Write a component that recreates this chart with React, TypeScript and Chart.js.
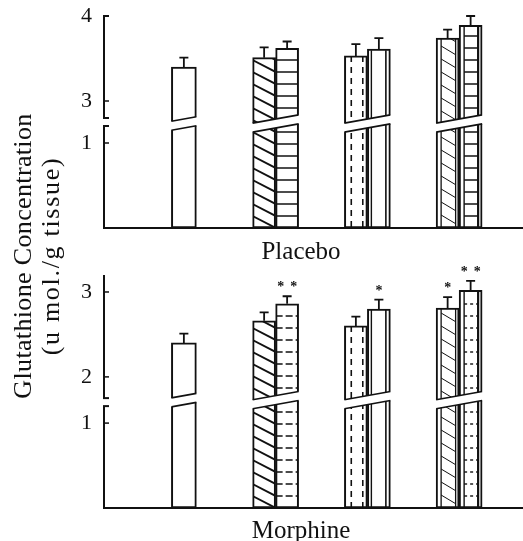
import React, { useEffect, useRef } from "react";
import { Chart, registerables, LinearScale } from "chart.js";

// ---------------- data ----------------
const categories = ["Control", "Group 1", "Group 2", "Group 3"];

const placeboControl = [3.4, null, null, null];
const placeboControlErr = [0.11, 0, 0, 0];
const placeboLeft = [null, 3.51, 3.53, 3.74];
const placeboLeftErr = [0, 0.12, 0.14, 0.1];
const placeboRight = [null, 3.62, 3.61, 3.89];
const placeboRightErr = [0, 0.08, 0.13, 0.11];
const placeboTicks = [1, 3, 4];

const morphineControl = [2.4, null, null, null];
const morphineControlErr = [0.11, 0, 0, 0];
const morphineLeft = [null, 2.66, 2.6, 2.81];
const morphineLeftErr = [0, 0.1, 0.11, 0.13];
const morphineRight = [null, 2.86, 2.8, 3.02];
const morphineRightErr = [0, 0.09, 0.11, 0.11];
const morphineLeftSig = ["", "", "", "*"];
const morphineRightSig = ["", "**", "*", "**"];
const morphineTicks = [1, 2, 3];

// ---------------- styles ----------------
const INK = "#111";
const FONT = '"Liberation Serif", "Times New Roman", serif';
const controlStyles = ["plain", null, null, null];
const leftStylesTop = [null, "diag", "dashedV", "diagDouble"];
const rightStylesTop = [null, "horiz", "doubleV", "horizDouble"];
const leftStylesBottom = [null, "diag", "dashedV", "diagDouble"];
const rightStylesBottom = [null, "horizDashed", "doubleV", "horizDoubleDotted"];

// ---------------- broken linear scale ----------------
class BrokenLinearScale extends (LinearScale as any) {
  static id = "brokenLinear";
  static defaults = {};
  _brkDecimal(value: number) {
    const o = (this as any).options.brk;
    const total = Math.abs((this as any).bottom - (this as any).top);
    const min = (this as any).min;
    const max = (this as any).max;
    const lowRange = o.low - min;
    const highRange = max - o.high;
    const ppu = (total - o.gap) / (lowRange + highRange);
    let px: number;
    if (value <= o.low) px = (value - min) * ppu;
    else if (value >= o.high) px = lowRange * ppu + o.gap + (value - o.high) * ppu;
    else px = lowRange * ppu + ((value - o.low) / (o.high - o.low)) * o.gap;
    return px / total;
  }
  getPixelForValue(value: any) {
    if (value === null || value === undefined || isNaN(value)) return NaN;
    return (this as any).getPixelForDecimal(this._brkDecimal(+value));
  }
  getValueForPixel(pixel: number) {
    const o = (this as any).options.brk;
    const total = Math.abs((this as any).bottom - (this as any).top);
    const min = (this as any).min;
    const max = (this as any).max;
    const d = (this as any).getDecimalForPixel(pixel) * total;
    const lowRange = o.low - min;
    const highRange = max - o.high;
    const ppu = (total - o.gap) / (lowRange + highRange);
    const lowPx = lowRange * ppu;
    if (d <= lowPx) return min + d / ppu;
    if (d >= lowPx + o.gap) return o.high + (d - lowPx - o.gap) / ppu;
    return o.low + ((d - lowPx) / o.gap) * (o.high - o.low);
  }
}

Chart.register(...registerables, BrokenLinearScale as any);

// ---------------- hatch drawing ----------------
function drawHatch(ctx: CanvasRenderingContext2D, style: string | null, l: number, t: number, r: number, b: number) {
  if (!style || style === "plain") return;
  const w = r - l;
  ctx.save();
  ctx.beginPath();
  ctx.rect(l + 1, t + 1, w - 2, b - t - 1);
  ctx.clip();
  ctx.strokeStyle = INK;
  ctx.lineCap = "butt";
  const vline = (x: number, lw: number, dash: number[] = []) => {
    ctx.lineWidth = lw;
    ctx.setLineDash(dash);
    ctx.beginPath();
    ctx.moveTo(x, t);
    ctx.lineTo(x, b);
    ctx.stroke();
  };
  const hlines = (x0: number, x1: number, lw: number, dash: number[], step: number) => {
    ctx.lineWidth = lw;
    ctx.setLineDash(dash);
    for (let yy = b - step; yy > t + 3; yy -= step) {
      ctx.beginPath();
      ctx.moveTo(x0, yy);
      ctx.lineTo(x1, yy);
      ctx.stroke();
    }
  };
  const diag = (x0: number, x1: number, lw: number, step: number, slope: number) => {
    ctx.lineWidth = lw;
    ctx.setLineDash([]);
    const span = (x1 - x0) * slope;
    for (let y0 = b; y0 > t - span - step; y0 -= step) {
      ctx.beginPath();
      ctx.moveTo(x0, y0);
      ctx.lineTo(x1, y0 + span);
      ctx.stroke();
    }
  };
  switch (style) {
    case "diag":
      diag(l, r, 1.8, 12, 0.52);
      break;
    case "horiz":
      hlines(l, r, 1.6, [], 12);
      break;
    case "horizDashed":
      hlines(l, r, 1.4, [7, 3], 12);
      break;
    case "dashedV":
      vline(l + 0.3 * w, 1.6, [6, 5]);
      vline(l + 0.8 * w, 1.6, [6, 5]);
      break;
    case "doubleV":
      vline(l + 4, 1.4);
      vline(r - 4.5, 1.6);
      break;
    case "diagDouble":
      vline(l + 5, 1.3);
      vline(r - 3.5, 1.3);
      diag(l + 5, r - 3.5, 1.0, 13, 0.6);
      break;
    case "horizDouble":
      vline(l + 5, 1.4);
      vline(r - 4, 2.2);
      hlines(l + 5, r - 4, 1.6, [], 12);
      break;
    case "horizDoubleDotted":
      vline(l + 5, 1.4);
      vline(r - 4, 2.2);
      hlines(l + 5, r - 4, 1.4, [3, 3], 12);
      break;
  }
  ctx.restore();
}

type Panel = {
  key: string;
  title: string;
  values: (number | null)[][];
  errs: number[][];
  sigs: string[][];
  styles: (string | null)[][];
  ticks: number[];
  min: number;
  max: number;
  low: number;
  high: number;
  gap: number;
  bandShift: number;
  topCap: boolean;
  height: number;
  padTop: number;
  titlePadTop: number;
  titlePadBottom: number;
};

function makeDecor(panel: Panel) {
  return {
    id: "decor-" + panel.key,
    afterDatasetsDraw(chart: any) {
      const ctx: CanvasRenderingContext2D = chart.ctx;
      const y = chart.scales.y;
      const area = chart.chartArea;
      const bars: any[][] = categories.map(() => []);
      ctx.save();
      // hatching
      chart.data.datasets.forEach((ds: any, di: number) => {
        const meta = chart.getDatasetMeta(di);
        meta.data.forEach((el: any, i: number) => {
          const v = ds.data[i];
          if (v === null || v === undefined) return;
          const p = el.getProps(["x", "y", "base", "width"], true);
          const l = p.x - p.width / 2;
          const r = p.x + p.width / 2;
          bars[i].push({ di, i, v, l, r, x: p.x, t: p.y, b: p.base });
          drawHatch(ctx, panel.styles[di][i], l, p.y, r, p.base);
        });
      });
      // break bands
      const yHigh = y.getPixelForValue(panel.high);
      const yLow = y.getPixelForValue(panel.low);
      const yc = (yHigh + yLow) / 2 + panel.bandShift;
      const g = 9;
      const s = 0.18;
      bars.forEach((list) => {
        if (!list.length) return;
        const xl = Math.min(...list.map((q) => q.l));
        const xr = Math.max(...list.map((q) => q.r));
        const m = (xl + xr) / 2;
        const f = (x: number, off: number) => yc + off + s * (m - x);
        ctx.fillStyle = "#fff";
        ctx.beginPath();
        ctx.moveTo(xl - 3, f(xl - 3, -g / 2));
        ctx.lineTo(xr + 3, f(xr + 3, -g / 2));
        ctx.lineTo(xr + 3, f(xr + 3, g / 2));
        ctx.lineTo(xl - 3, f(xl - 3, g / 2));
        ctx.closePath();
        ctx.fill();
        ctx.strokeStyle = INK;
        ctx.lineWidth = 1.6;
        ctx.setLineDash([]);
        [-g / 2, g / 2].forEach((off) => {
          ctx.beginPath();
          ctx.moveTo(xl, f(xl, off));
          ctx.lineTo(xr, f(xr, off));
          ctx.stroke();
        });
      });
      // error bars and significance marks
      ctx.strokeStyle = INK;
      ctx.fillStyle = INK;
      ctx.lineWidth = 1.8;
      bars.forEach((list) => {
        list.forEach((q) => {
          const e = panel.errs[q.di][q.i];
          const top = y.getPixelForValue(q.v + (e || 0));
          if (e) {
            ctx.beginPath();
            ctx.moveTo(q.x, q.t);
            ctx.lineTo(q.x, top);
            ctx.moveTo(q.x - 4.5, top);
            ctx.lineTo(q.x + 4.5, top);
            ctx.stroke();
          }
          const sig = panel.sigs[q.di] ? panel.sigs[q.di][q.i] : "";
          if (sig) {
            ctx.font = `bold 14px ${FONT}`;
            ctx.textAlign = "center";
            ctx.textBaseline = "alphabetic";
            const yy = top - 12 + 7;
            if (sig.length === 1) ctx.fillText("*", q.x, yy);
            else {
              ctx.fillText("*", q.x - 6.5, yy);
              ctx.fillText("*", q.x + 6.5, yy);
            }
          }
        });
      });
      // axes
      const ax = area.left - 34;
      const yMax = y.getPixelForValue(panel.max);
      const y0 = y.getPixelForValue(panel.min);
      ctx.lineWidth = 2;
      ctx.setLineDash([]);
      const line = (x1: number, y1: number, x2: number, y2: number) => {
        ctx.beginPath();
        ctx.moveTo(x1, y1);
        ctx.lineTo(x2, y2);
        ctx.stroke();
      };
      line(ax, yMax, ax, yHigh);
      line(ax, yLow, ax, y0);
      if (panel.topCap) line(ax - 1, yMax, ax + 5, yMax);
      line(ax - 1, yHigh, ax + 5, yHigh);
      line(ax - 1, yLow, ax + 5, yLow);
      ctx.lineWidth = 1.5;
      panel.ticks.forEach((v) => {
        const py = y.getPixelForValue(v);
        line(ax, py, ax + 5, py);
      });
      ctx.lineWidth = 2;
      line(ax - 1, y0, chart.width, y0);
      ctx.restore();
    },
  };
}

function makeConfig(panel: Panel): any {
  return {
    type: "bar",
    data: {
      labels: categories,
      datasets: panel.values.map((vals, di) => ({
        label: ["Control", "Left", "Right"][di],
        data: vals,
        backgroundColor: "#fff",
        borderColor: INK,
        borderWidth: 2,
        borderSkipped: false,
        barThickness: di === 0 ? 25 : 23,
      })),
    },
    options: {
      responsive: false,
      animation: false,
      events: [],
      skipNull: true,
      layout: {
        autoPadding: false,
        padding: { top: panel.padTop, left: 97, right: 18, bottom: 0 },
      },
      plugins: {
        legend: { display: false },
        tooltip: { enabled: false },
        title: {
          display: true,
          position: "bottom",
          text: panel.title,
          color: INK,
          font: { family: FONT, size: 25, weight: "normal", lineHeight: 1.2 },
          padding: { top: panel.titlePadTop, bottom: panel.titlePadBottom },
        },
      },
      scales: {
        x: { type: "category", display: false, offset: true },
        y: {
          type: "brokenLinear",
          min: panel.min,
          max: panel.max,
          brk: { low: panel.low, high: panel.high, gap: panel.gap },
          afterBuildTicks: (sc: any) => {
            sc.ticks = panel.ticks.map((v) => ({ value: v }));
          },
          afterFit: (sc: any) => {
            sc.width = 41;
          },
          grid: { display: false, drawTicks: false },
          border: { display: false },
          ticks: {
            mirror: true,
            crossAlign: "near",
            padding: -57,
            color: INK,
            font: { family: FONT, size: 22 },
            autoSkip: false,
            callback: (v: any) => String(v),
          },
        },
      },
    },
    plugins: [makeDecor(panel)],
  };
}

const topPanel: Panel = {
  key: "placebo",
  title: "Placebo",
  values: [placeboControl, placeboLeft, placeboRight],
  errs: [placeboControlErr, placeboLeftErr, placeboRightErr],
  sigs: [[], [], []],
  styles: [controlStyles, leftStylesTop, rightStylesTop],
  ticks: placeboTicks,
  min: 0,
  max: 4,
  low: 1.2,
  high: 2.8,
  gap: 8,
  bandShift: 1.5,
  topCap: true,
  height: 270,
  padTop: 16,
  titlePadTop: 9,
  titlePadBottom: 3,
};

const bottomPanel: Panel = {
  key: "morphine",
  title: "Morphine",
  values: [morphineControl, morphineLeft, morphineRight],
  errs: [morphineControlErr, morphineLeftErr, morphineRightErr],
  sigs: [[], morphineLeftSig, morphineRightSig],
  styles: [controlStyles, leftStylesBottom, rightStylesBottom],
  ticks: morphineTicks,
  min: 0,
  max: 3.2,
  low: 1.2,
  high: 1.75,
  gap: 8,
  bandShift: -2,
  topCap: false,
  height: 290,
  padTop: 13,
  titlePadTop: 8,
  titlePadBottom: 6,
};

function PanelChart({ panel, top }: { panel: Panel; top: number }) {
  const ref = useRef<HTMLCanvasElement | null>(null);
  useEffect(() => {
    if (!ref.current) return;
    const chart = new Chart(ref.current, makeConfig(panel));
    return () => chart.destroy();
  }, [panel]);
  return (
    <canvas
      ref={ref}
      width={523}
      height={panel.height}
      style={{ position: "absolute", left: 0, top, width: 523, height: panel.height }}
    />
  );
}

const yTitleStyle = (cx: number, cy: number, ls: number): React.CSSProperties => ({
  position: "absolute",
  left: cx,
  top: cy,
  transform: "translate(-50%, -50%) rotate(-90deg)",
  whiteSpace: "nowrap",
  fontFamily: FONT,
  fontSize: 26,
  lineHeight: "26px",
  letterSpacing: ls,
  color: INK,
});

export default function App() {
  return (
    <div
      style={{
        position: "fixed",
        left: 0,
        top: 0,
        width: 523,
        height: 541,
        overflow: "hidden",
        background: "#fff",
      }}
    >
      <PanelChart panel={topPanel} top={0} />
      <PanelChart panel={bottomPanel} top={262} />
      <span style={yTitleStyle(23, 256, 0.35)}>Glutathione Concentration</span>
      <span style={yTitleStyle(51, 256, 1.7)}>(u mol./g tissue)</span>
    </div>
  );
}
